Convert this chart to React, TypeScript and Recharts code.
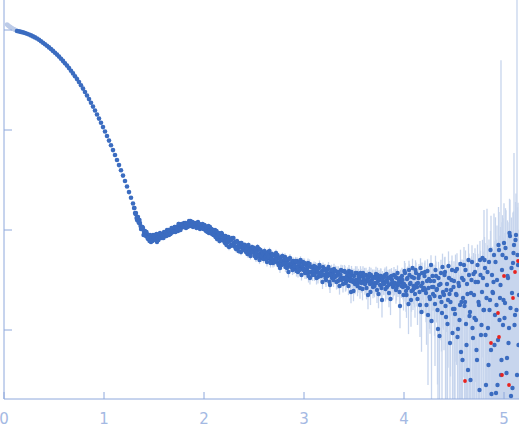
import React from 'react';
import { ScatterChart, Scatter, XAxis, YAxis, ErrorBar } from 'recharts';

// scattering curve, intensity stored as log10(I)
const FADED_Q = [0.03, 0.04, 0.05, 0.06, 0.07, 0.08, 0.09, 0.10, 0.11, 0.12];
const FADED_LOG_I = [0.055, 0.046, 0.038, 0.031, 0.024, 0.018, 0.012, 0.007, 0.002, -0.003];

const CURVE_Q = [
  0.13, 0.15, 0.17, 0.19, 0.21, 0.23, 0.25, 0.27, 0.29, 0.31,
  0.33, 0.35, 0.37, 0.39, 0.41, 0.43, 0.45, 0.47, 0.49, 0.51,
  0.53, 0.55, 0.57, 0.59, 0.61, 0.63, 0.65, 0.67, 0.69, 0.71,
  0.73, 0.75, 0.77, 0.79, 0.81, 0.83, 0.85, 0.87, 0.89, 0.91,
  0.93, 0.95, 0.97, 0.99, 1.01, 1.03, 1.05, 1.07, 1.09, 1.11,
  1.13, 1.15, 1.17, 1.19, 1.21, 1.23, 1.25, 1.27, 1.29,
];
const CURVE_LOG_I = [
  -0.010, -0.014, -0.019, -0.024, -0.030, -0.037, -0.045, -0.054, -0.064, -0.074,
  -0.085, -0.098, -0.112, -0.127, -0.142, -0.158, -0.174, -0.191, -0.209, -0.227,
  -0.246, -0.266, -0.287, -0.309, -0.332, -0.356, -0.381, -0.407, -0.434, -0.462,
  -0.491, -0.521, -0.553, -0.586, -0.620, -0.655, -0.691, -0.728, -0.766, -0.805,
  -0.845, -0.886, -0.928, -0.971, -1.015, -1.060, -1.106, -1.153, -1.201, -1.250,
  -1.300, -1.351, -1.403, -1.456, -1.510, -1.565, -1.621, -1.678, -1.735,
];

// noisy part, read on a 0.01 grid ...
const NOISY_Q = [
  1.30, 1.31, 1.32, 1.33, 1.34, 1.35, 1.36, 1.37, 1.38, 1.39,
  1.40, 1.41, 1.42, 1.43, 1.44, 1.45, 1.46, 1.47, 1.48, 1.49,
  1.50, 1.51, 1.52, 1.53, 1.54, 1.55, 1.56, 1.57, 1.58, 1.59,
  1.60, 1.61, 1.62, 1.63, 1.64, 1.65, 1.66, 1.67, 1.68, 1.69,
  1.70, 1.71, 1.72, 1.73, 1.74, 1.75, 1.76, 1.77, 1.78, 1.79,
  1.80, 1.81, 1.82, 1.83, 1.84, 1.85, 1.86, 1.87, 1.88, 1.89,
  1.90, 1.91, 1.92, 1.93, 1.94, 1.95, 1.96, 1.97, 1.98, 1.99,
  2.00, 2.01, 2.02, 2.03, 2.04, 2.05, 2.06, 2.07, 2.08, 2.09,
  2.10, 2.11, 2.12, 2.13, 2.14, 2.15, 2.16, 2.17, 2.18, 2.19,
  2.20, 2.21, 2.22, 2.23, 2.24, 2.25, 2.26, 2.27, 2.28, 2.29,
  2.30, 2.31, 2.32, 2.33, 2.34, 2.35, 2.36, 2.37, 2.38, 2.39,
  2.40, 2.41, 2.42, 2.43, 2.44, 2.45, 2.46, 2.47, 2.48, 2.49,
  2.50, 2.51, 2.52, 2.53, 2.54, 2.55, 2.56, 2.57, 2.58, 2.59,
  2.60, 2.61, 2.62, 2.63, 2.64, 2.65, 2.66, 2.67, 2.68, 2.69,
  2.70, 2.71, 2.72, 2.73, 2.74, 2.75, 2.76, 2.77, 2.78, 2.79,
  2.80, 2.81, 2.82, 2.83, 2.84, 2.85, 2.86, 2.87, 2.88, 2.89,
  2.90, 2.91, 2.92, 2.93, 2.94, 2.95, 2.96, 2.97, 2.98, 2.99,
  3.00, 3.01, 3.02, 3.03, 3.04, 3.05, 3.06, 3.07, 3.08, 3.09,
  3.10, 3.11, 3.12, 3.13, 3.14, 3.15, 3.16, 3.17, 3.18, 3.19,
  3.20, 3.21, 3.22, 3.23, 3.24, 3.25, 3.26, 3.27, 3.28, 3.29,
  3.30, 3.31, 3.32, 3.33, 3.34, 3.35, 3.36, 3.37, 3.38, 3.39,
  3.40, 3.41, 3.42, 3.43, 3.44, 3.45, 3.46, 3.47, 3.48, 3.49,
  3.50, 3.51, 3.52, 3.53, 3.54, 3.55, 3.56, 3.57, 3.58, 3.59,
  3.60, 3.61, 3.62, 3.63, 3.64, 3.65, 3.66, 3.67, 3.68, 3.69,
  3.70, 3.71, 3.72, 3.73, 3.74, 3.75, 3.76, 3.77, 3.78, 3.79,
  3.80, 3.81, 3.82, 3.83, 3.84, 3.85, 3.86, 3.87, 3.88, 3.89,
  3.90, 3.91, 3.92, 3.93, 3.94, 3.95, 3.96, 3.97, 3.98, 3.99,
  4.00, 4.01, 4.02, 4.03, 4.04, 4.05, 4.06, 4.07, 4.08, 4.09,
  4.10, 4.11, 4.12, 4.13, 4.14, 4.15, 4.16, 4.17, 4.18, 4.19,
  4.20, 4.21, 4.22, 4.23, 4.24, 4.25, 4.26, 4.27, 4.28, 4.29,
  4.30, 4.31, 4.32, 4.33, 4.34, 4.35, 4.36, 4.37, 4.38, 4.39,
  4.40, 4.41, 4.42, 4.43, 4.44, 4.45, 4.46, 4.47, 4.48, 4.49,
  4.50, 4.51, 4.52, 4.53, 4.54, 4.55, 4.56, 4.57, 4.58, 4.59,
  4.60, 4.61, 4.62, 4.63, 4.64, 4.65, 4.66, 4.67, 4.68, 4.69,
  4.70, 4.71, 4.72, 4.73, 4.74, 4.75, 4.76, 4.77, 4.78, 4.79,
  4.80, 4.81, 4.82, 4.83, 4.84, 4.85, 4.86, 4.87, 4.88, 4.89,
  4.90, 4.91, 4.92, 4.93, 4.94, 4.95, 4.96, 4.97, 4.98, 4.99,
  5.00, 5.01, 5.02, 5.03, 5.04, 5.05, 5.06, 5.07, 5.08, 5.09,
  5.10, 5.11, 5.12, 5.13, 5.14, 5.15,
];
const NOISY_LOG_I = [
  -1.78, -1.83, -1.83, -1.90, -1.87, -1.93, -1.93, -1.99, -1.98, -1.98,
  -2.02, -2.01, -2.06, -2.04, -2.09, -2.07, -2.05, -2.12, -2.09, -2.05,
  -2.09, -2.05, -2.08, -2.12, -2.05, -2.08, -2.03, -2.06, -2.08, -2.04,
  -2.02, -2.06, -2.03, -2.00, -2.04, -2.05, -2.01, -2.03, -1.99, -2.00,
  -2.01, -1.97, -1.99, -1.97, -2.01, -1.94, -1.97, -1.98, -1.95, -1.97,
  -1.93, -1.96, -1.98, -1.94, -1.94, -1.91, -1.96, -1.93, -1.95, -1.97,
  -1.93, -1.96, -1.93, -1.96, -1.92, -1.96, -1.99, -1.95, -1.98, -1.97,
  -1.99, -1.96, -2.01, -1.99, -1.98, -2.03, -1.97, -2.01, -2.04, -2.00,
  -2.05, -2.00, -2.04, -2.09, -2.03, -2.07, -2.05, -2.10, -2.04, -2.10,
  -2.06, -2.13, -2.09, -2.07, -2.12, -2.17, -2.10, -2.15, -2.08, -2.14,
  -2.16, -2.12, -2.19, -2.11, -2.16, -2.17, -2.13, -2.22, -2.17, -2.15,
  -2.19, -2.15, -2.22, -2.19, -2.17, -2.24, -2.19, -2.23, -2.17, -2.22,
  -2.18, -2.24, -2.28, -2.21, -2.25, -2.19, -2.24, -2.28, -2.22, -2.24,
  -2.27, -2.23, -2.26, -2.32, -2.22, -2.28, -2.25, -2.31, -2.24, -2.33,
  -2.25, -2.31, -2.23, -2.29, -2.33, -2.28, -2.38, -2.27, -2.32, -2.31,
  -2.34, -2.27, -2.33, -2.38, -2.30, -2.35, -2.28, -2.37, -2.34, -2.31,
  -2.39, -2.33, -2.37, -2.31, -2.42, -2.36, -2.33, -2.39, -2.38, -2.32,
  -2.39, -2.43, -2.35, -2.39, -2.33, -2.42, -2.48, -2.37, -2.42, -2.38,
  -2.36, -2.43, -2.41, -2.38, -2.47, -2.38, -2.43, -2.46, -2.41, -2.37,
  -2.45, -2.39, -2.50, -2.43, -2.39, -2.45, -2.55, -2.42, -2.48, -2.43,
  -2.39, -2.47, -2.46, -2.42, -2.51, -2.44, -2.49, -2.40, -2.48, -2.54,
  -2.48, -2.42, -2.52, -2.46, -2.50, -2.41, -2.48, -2.62, -2.45, -2.52,
  -2.46, -2.54, -2.50, -2.43, -2.53, -2.48, -2.58, -2.46, -2.52, -2.43,
  -2.50, -2.54, -2.45, -2.51, -2.65, -2.47, -2.54, -2.45, -2.50, -2.57,
  -2.47, -2.53, -2.44, -2.60, -2.51, -2.48, -2.55, -2.46, -2.70, -2.52,
  -2.54, -2.45, -2.51, -2.57, -2.48, -2.63, -2.47, -2.54, -2.50, -2.57,
  -2.45, -2.53, -2.60, -2.48, -2.55, -2.50, -2.76, -2.52, -2.46, -2.57,
  -2.54, -2.43, -2.61, -2.49, -2.58, -2.40, -2.54, -2.70, -2.47, -2.60,
  -2.48, -2.64, -2.43, -2.57, -2.53, -2.45, -2.75, -2.56, -2.43, -2.60,
  -2.58, -2.42, -2.63, -2.51, -2.85, -2.49, -2.69, -2.35, -2.57, -2.64,
  -2.51, -2.74, -2.46, -2.59, -2.99, -2.55, -2.67, -2.43, -2.83, -2.62,
  -2.65, -2.42, -2.87, -2.54, -2.70, -2.48, -3.13, -2.60, -2.40, -2.79,
  -2.51, -2.84, -2.64, -2.39, -2.99, -2.56, -2.75, -3.22, -2.48, -2.68,
  -2.35, -2.72, -2.94, -2.54, -3.40, -2.45, -2.82, -2.63, -2.32, -3.08,
  -2.65, -2.42, -2.90, -3.30, -2.52, -2.75, -2.30, -3.05, -2.62, -2.48,
  -2.80, -2.38, -3.55, -2.55, -2.98, -2.32, -2.70, -3.20, -2.45, -2.63,
  -2.25, -2.85, -3.63, -2.50, -3.10, -2.20, -2.68, -3.45, -2.40, -2.95,
  -2.13, -2.73, -2.28, -3.28, -2.48, -2.98, -2.06, -3.66, -2.63, -2.33,
  -2.15, -2.85, -2.05, -3.45, -2.35, -2.65,
];
// relative error sigma / I
const NOISY_REL_ERR = [
  0.03, 0.03, 0.03, 0.04, 0.03, 0.03, 0.03, 0.04, 0.03, 0.03,
  0.03, 0.03, 0.04, 0.03, 0.04, 0.03, 0.03, 0.04, 0.03, 0.03,
  0.04, 0.03, 0.03, 0.04, 0.03, 0.04, 0.03, 0.03, 0.04, 0.03,
  0.03, 0.04, 0.03, 0.03, 0.04, 0.04, 0.03, 0.03, 0.03, 0.03,
  0.04, 0.03, 0.03, 0.03, 0.04, 0.03, 0.03, 0.04, 0.03, 0.03,
  0.03, 0.03, 0.04, 0.03, 0.03, 0.03, 0.04, 0.03, 0.03, 0.04,
  0.03, 0.04, 0.03, 0.03, 0.03, 0.03, 0.04, 0.03, 0.04, 0.03,
  0.04, 0.04, 0.05, 0.04, 0.04, 0.05, 0.04, 0.04, 0.05, 0.04,
  0.05, 0.04, 0.05, 0.06, 0.04, 0.05, 0.05, 0.06, 0.04, 0.05,
  0.05, 0.06, 0.05, 0.05, 0.06, 0.07, 0.05, 0.06, 0.05, 0.06,
  0.06, 0.05, 0.07, 0.05, 0.06, 0.06, 0.05, 0.07, 0.06, 0.06,
  0.06, 0.06, 0.07, 0.06, 0.06, 0.08, 0.06, 0.07, 0.06, 0.07,
  0.07, 0.08, 0.09, 0.07, 0.08, 0.07, 0.08, 0.09, 0.07, 0.08,
  0.09, 0.08, 0.08, 0.10, 0.07, 0.09, 0.08, 0.09, 0.08, 0.10,
  0.08, 0.09, 0.08, 0.09, 0.10, 0.09, 0.11, 0.08, 0.09, 0.09,
  0.10, 0.09, 0.10, 0.11, 0.09, 0.10, 0.09, 0.11, 0.10, 0.09,
  0.11, 0.10, 0.10, 0.09, 0.12, 0.10, 0.10, 0.11, 0.10, 0.09,
  0.12, 0.13, 0.11, 0.12, 0.11, 0.13, 0.14, 0.11, 0.12, 0.12,
  0.11, 0.13, 0.12, 0.12, 0.14, 0.12, 0.13, 0.14, 0.12, 0.11,
  0.14, 0.12, 0.15, 0.13, 0.12, 0.14, 0.17, 0.13, 0.14, 0.13,
  0.13, 0.15, 0.15, 0.14, 0.17, 0.15, 0.16, 0.13, 0.16, 0.18,
  0.17, 0.15, 0.18, 0.16, 0.17, 0.15, 0.17, 0.23, 0.16, 0.18,
  0.18, 0.21, 0.19, 0.17, 0.20, 0.18, 0.22, 0.18, 0.20, 0.17,
  0.20, 0.22, 0.18, 0.20, 0.28, 0.19, 0.21, 0.18, 0.20, 0.23,
  0.19, 0.22, 0.18, 0.26, 0.21, 0.20, 0.23, 0.19, 0.33, 0.21,
  0.23, 0.19, 0.22, 0.25, 0.21, 0.28, 0.20, 0.23, 0.22, 0.25,
  0.20, 0.23, 0.27, 0.22, 0.24, 0.22, 0.40, 0.23, 0.21, 0.25,
  0.33, 0.26, 0.38, 0.29, 0.35, 0.24, 0.32, 0.46, 0.28, 0.37,
  0.30, 0.42, 0.27, 0.36, 0.33, 0.29, 0.52, 0.35, 0.27, 0.38,
  0.44, 0.30, 0.49, 0.37, 0.80, 0.35, 0.55, 0.25, 0.42, 0.48,
  0.45, 0.76, 0.40, 0.54, 1.30, 0.48, 0.63, 0.36, 0.91, 0.56,
  0.72, 0.42, 1.20, 0.55, 0.79, 0.48, 2.10, 0.62, 0.40, 0.95,
  0.58, 1.25, 0.79, 0.44, 1.75, 0.66, 0.99, 2.90, 0.53, 0.84,
  0.51, 1.19, 1.97, 0.79, 5.70, 0.64, 1.50, 0.96, 0.47, 2.70,
  1.23, 0.73, 2.20, 5.50, 0.92, 1.55, 0.55, 3.10, 1.15, 0.84,
  9.0, 0.78, 11.6, 4.8, 3.1, 0.68, 1.6, 21, 0.92, 1.4,
  1.6, 4.5, 30, 2.5, 7.0, 1.4, 3.2, 1400, 2.0, 10.7,
  1.5, 4.0, 2.0, 12, 2.6, 7.0, 1.3, 43, 3.2, 2.2,
  7.3, 5.0, 1.6, 8000, 3.2, 3.5,
];

// ... and the points lying in between
const NOISY_Q2 = [
  1.305, 1.315, 1.325, 1.335, 1.345, 1.355, 1.365, 1.375, 1.385, 1.395,
  1.405, 1.415, 1.425, 1.435, 1.445, 1.455, 1.465, 1.475, 1.485, 1.495,
  1.505, 1.515, 1.525, 1.535, 1.545, 1.555, 1.565, 1.575, 1.585, 1.595,
  1.605, 1.615, 1.625, 1.635, 1.645, 1.655, 1.665, 1.675, 1.685, 1.695,
  1.705, 1.715, 1.725, 1.735, 1.745, 1.755, 1.765, 1.775, 1.785, 1.795,
  1.805, 1.815, 1.825, 1.835, 1.845, 1.855, 1.865, 1.875, 1.885, 1.895,
  1.905, 1.915, 1.925, 1.935, 1.945, 1.955, 1.965, 1.975, 1.985, 1.995,
  2.005, 2.015, 2.025, 2.035, 2.045, 2.055, 2.065, 2.075, 2.085, 2.095,
  2.105, 2.115, 2.125, 2.135, 2.145, 2.155, 2.165, 2.175, 2.185, 2.195,
  2.205, 2.215, 2.225, 2.235, 2.245, 2.255, 2.265, 2.275, 2.285, 2.295,
  2.305, 2.315, 2.325, 2.335, 2.345, 2.355, 2.365, 2.375, 2.385, 2.395,
  2.405, 2.415, 2.425, 2.435, 2.445, 2.455, 2.465, 2.475, 2.485, 2.495,
  2.505, 2.515, 2.525, 2.535, 2.545, 2.555, 2.565, 2.575, 2.585, 2.595,
  2.605, 2.615, 2.625, 2.635, 2.645, 2.655, 2.665, 2.675, 2.685, 2.695,
  2.705, 2.715, 2.725, 2.735, 2.745, 2.755, 2.765, 2.775, 2.785, 2.795,
  2.805, 2.815, 2.825, 2.835, 2.845, 2.855, 2.865, 2.875, 2.885, 2.895,
  2.905, 2.915, 2.925, 2.935, 2.945, 2.955, 2.965, 2.975, 2.985, 2.995,
  3.005, 3.015, 3.025, 3.035, 3.045, 3.055, 3.065, 3.075, 3.085, 3.095,
  3.105, 3.115, 3.125, 3.135, 3.145, 3.155, 3.165, 3.175, 3.185, 3.195,
  3.205, 3.215, 3.225, 3.235, 3.245, 3.255, 3.265, 3.275, 3.285, 3.295,
  3.305, 3.315, 3.325, 3.335, 3.345, 3.355, 3.365, 3.375, 3.385, 3.395,
  3.405, 3.415, 3.425, 3.435, 3.445, 3.455, 3.465, 3.475, 3.485, 3.495,
  3.505, 3.515, 3.525, 3.535, 3.545, 3.555, 3.565, 3.575, 3.585, 3.595,
  3.605, 3.615, 3.625, 3.635, 3.645, 3.655, 3.665, 3.675, 3.685, 3.695,
  3.705, 3.715, 3.725, 3.735, 3.745, 3.755, 3.765, 3.775, 3.785, 3.795,
  3.805, 3.815, 3.825, 3.835, 3.845, 3.855, 3.865, 3.875, 3.885, 3.895,
  3.905, 3.915, 3.925, 3.935, 3.945, 3.955, 3.965, 3.975, 3.985, 3.995,
  4.005, 4.015, 4.025, 4.035, 4.045, 4.055, 4.065, 4.075, 4.085, 4.095,
  4.105, 4.115, 4.125, 4.135, 4.145, 4.155, 4.165, 4.175, 4.185, 4.195,
  4.205, 4.215, 4.225, 4.235, 4.245, 4.255, 4.265, 4.275, 4.285, 4.295,
  4.305, 4.315, 4.325, 4.335, 4.345, 4.355, 4.365, 4.375, 4.385, 4.395,
  4.405, 4.415, 4.425, 4.435, 4.445, 4.455, 4.465, 4.475, 4.485, 4.495,
  4.505, 4.515, 4.525, 4.535, 4.545, 4.555, 4.565, 4.575, 4.585, 4.595,
  4.605, 4.615, 4.625, 4.635, 4.645, 4.655, 4.665, 4.675, 4.685, 4.695,
  4.705, 4.715, 4.725, 4.735, 4.745, 4.755, 4.765, 4.775, 4.785, 4.795,
  4.805, 4.815, 4.825, 4.835, 4.845, 4.855, 4.865, 4.875, 4.885, 4.895,
  4.905, 4.915, 4.925, 4.935, 4.945, 4.955, 4.965, 4.975, 4.985, 4.995,
  5.005, 5.015, 5.025, 5.035, 5.045, 5.055, 5.065, 5.075, 5.085, 5.095,
  5.105, 5.115, 5.125, 5.135, 5.145,
];
const NOISY_LOG_I2 = [
  -1.78, -1.84, -1.88, -1.87, -1.92, -1.90, -1.96, -1.99, -1.97, -2.05,
  -2.05, -2.02, -2.02, -2.08, -2.08, -2.11, -2.06, -2.08, -2.11, -2.07,
  -2.06, -2.10, -2.04, -2.08, -2.10, -2.04, -2.08, -2.05, -2.06, -2.08,
  -2.06, -2.02, -2.06, -2.03, -2.00, -2.01, -2.04, -1.98, -2.02, -2.02,
  -1.97, -2.02, -1.97, -1.99, -1.94, -1.99, -2.00, -1.94, -1.96, -1.97,
  -1.97, -1.93, -1.95, -1.97, -1.93, -1.96, -1.91, -1.95, -1.92, -1.95,
  -1.96, -1.94, -1.98, -1.93, -1.96, -1.94, -1.98, -1.97, -1.94, -1.99,
  -1.95, -2.00, -1.97, -2.02, -1.96, -2.01, -2.02, -1.99, -2.01, -2.05,
  -2.01, -2.07, -2.01, -2.06, -2.03, -2.11, -2.06, -2.03, -2.10, -2.07,
  -2.12, -2.06, -2.15, -2.11, -2.07, -2.11, -2.16, -2.10, -2.15, -2.08,
  -2.13, -2.18, -2.12, -2.17, -2.21, -2.14, -2.17, -2.13, -2.20, -2.17,
  -2.15, -2.21, -2.18, -2.24, -2.15, -2.22, -2.26, -2.19, -2.22, -2.18,
  -2.26, -2.20, -2.23, -2.17, -2.26, -2.30, -2.20, -2.26, -2.23, -2.29,
  -2.21, -2.27, -2.30, -2.24, -2.27, -2.21, -2.33, -2.28, -2.25, -2.30,
  -2.32, -2.27, -2.30, -2.25, -2.35, -2.28, -2.31, -2.35, -2.26, -2.34,
  -2.29, -2.37, -2.29, -2.34, -2.42, -2.29, -2.34, -2.33, -2.40, -2.32,
  -2.36, -2.31, -2.41, -2.37, -2.33, -2.40, -2.30, -2.45, -2.36, -2.40,
  -2.33, -2.40, -2.43, -2.37, -2.46, -2.34, -2.42, -2.37, -2.45, -2.41,
  -2.45, -2.37, -2.48, -2.40, -2.43, -2.35, -2.45, -2.43, -2.52, -2.40,
  -2.39, -2.48, -2.42, -2.46, -2.37, -2.52, -2.45, -2.40, -2.46, -2.50,
  -2.46, -2.41, -2.52, -2.45, -2.42, -2.56, -2.45, -2.50, -2.41, -2.49,
  -2.41, -2.53, -2.48, -2.44, -2.56, -2.45, -2.51, -2.42, -2.50, -2.61,
  -2.51, -2.43, -2.50, -2.56, -2.46, -2.50, -2.43, -2.53, -2.59, -2.48,
  -2.45, -2.53, -2.58, -2.48, -2.51, -2.44, -2.62, -2.52, -2.47, -2.55,
  -2.56, -2.48, -2.53, -2.45, -2.64, -2.50, -2.46, -2.58, -2.49, -2.54,
  -2.47, -2.59, -2.44, -2.52, -2.55, -2.48, -2.69, -2.46, -2.52, -2.55,
  -2.54, -2.47, -2.58, -2.43, -2.53, -2.62, -2.48, -2.56, -2.50, -2.65,
  -2.41, -2.56, -2.65, -2.48, -2.74, -2.45, -2.53, -2.61, -2.38, -2.56,
  -2.58, -2.40, -2.54, -2.69, -2.48, -2.62, -2.38, -2.82, -2.53, -2.58,
  -2.46, -2.60, -2.75, -2.41, -2.58, -2.67, -2.51, -2.91, -2.46, -2.57,
  -2.66, -2.40, -2.60, -2.80, -2.48, -3.06, -2.54, -2.72, -2.37, -2.64,
  -2.45, -2.76, -2.60, -2.94, -2.36, -2.64, -2.72, -2.50, -3.03, -2.57,
  -2.79, -2.41, -2.65, -3.07, -2.53, -2.90, -2.34, -2.72, -3.30, -2.50,
  -2.76, -2.40, -3.15, -2.64, -2.30, -2.86, -3.50, -2.50, -2.98, -2.44,
  -2.88, -2.52, -3.20, -2.35, -2.72, -3.60, -2.45, -2.95, -2.28, -2.80,
  -2.30, -3.05, -2.68, -2.42, -3.35, -2.80, -2.20, -3.64, -2.62, -2.52,
  -3.15, -2.32, -2.75, -3.55, -2.15, -2.90, -2.55, -3.30, -2.25, -2.70,
  -2.88, -2.18, -3.43, -2.46, -3.13, -2.03, -2.78, -2.38, -3.58, -2.23,
  -2.95, -2.10, -2.80, -2.25, -3.15,
];
const NOISY_REL_ERR2 = [
  0.03, 0.03, 0.04, 0.03, 0.04, 0.03, 0.03, 0.04, 0.03, 0.04,
  0.04, 0.03, 0.03, 0.04, 0.03, 0.04, 0.03, 0.03, 0.04, 0.03,
  0.03, 0.04, 0.03, 0.03, 0.04, 0.03, 0.04, 0.03, 0.03, 0.04,
  0.04, 0.03, 0.04, 0.03, 0.03, 0.03, 0.04, 0.03, 0.03, 0.04,
  0.03, 0.04, 0.03, 0.03, 0.03, 0.04, 0.04, 0.03, 0.03, 0.04,
  0.04, 0.03, 0.03, 0.04, 0.03, 0.04, 0.03, 0.03, 0.03, 0.04,
  0.04, 0.03, 0.04, 0.03, 0.04, 0.03, 0.04, 0.04, 0.03, 0.04,
  0.04, 0.05, 0.04, 0.05, 0.04, 0.05, 0.05, 0.04, 0.05, 0.05,
  0.05, 0.06, 0.04, 0.05, 0.05, 0.06, 0.05, 0.05, 0.06, 0.05,
  0.06, 0.05, 0.06, 0.06, 0.05, 0.06, 0.07, 0.05, 0.06, 0.05,
  0.06, 0.07, 0.05, 0.06, 0.07, 0.06, 0.06, 0.05, 0.07, 0.06,
  0.06, 0.07, 0.06, 0.08, 0.06, 0.07, 0.08, 0.06, 0.07, 0.06,
  0.08, 0.07, 0.08, 0.07, 0.08, 0.09, 0.07, 0.08, 0.08, 0.09,
  0.08, 0.09, 0.09, 0.08, 0.09, 0.08, 0.10, 0.09, 0.08, 0.09,
  0.10, 0.09, 0.09, 0.08, 0.10, 0.09, 0.09, 0.10, 0.08, 0.10,
  0.09, 0.11, 0.09, 0.10, 0.12, 0.09, 0.10, 0.10, 0.11, 0.10,
  0.10, 0.10, 0.12, 0.11, 0.10, 0.11, 0.09, 0.12, 0.10, 0.11,
  0.11, 0.12, 0.13, 0.12, 0.14, 0.11, 0.12, 0.12, 0.13, 0.12,
  0.13, 0.12, 0.14, 0.12, 0.13, 0.11, 0.13, 0.13, 0.15, 0.12,
  0.12, 0.15, 0.13, 0.14, 0.12, 0.16, 0.14, 0.13, 0.14, 0.15,
  0.15, 0.13, 0.16, 0.15, 0.14, 0.18, 0.15, 0.16, 0.14, 0.16,
  0.15, 0.18, 0.17, 0.16, 0.19, 0.16, 0.18, 0.15, 0.17, 0.21,
  0.19, 0.17, 0.19, 0.21, 0.18, 0.19, 0.17, 0.20, 0.23, 0.18,
  0.18, 0.20, 0.23, 0.19, 0.20, 0.18, 0.26, 0.20, 0.19, 0.22,
  0.23, 0.20, 0.21, 0.18, 0.28, 0.20, 0.19, 0.24, 0.20, 0.22,
  0.20, 0.25, 0.19, 0.22, 0.23, 0.21, 0.31, 0.20, 0.22, 0.23,
  0.23, 0.20, 0.25, 0.19, 0.22, 0.27, 0.21, 0.24, 0.22, 0.30,
  0.26, 0.34, 0.41, 0.30, 0.50, 0.28, 0.32, 0.38, 0.24, 0.34,
  0.36, 0.25, 0.33, 0.45, 0.29, 0.40, 0.25, 0.60, 0.32, 0.35,
  0.36, 0.45, 0.60, 0.31, 0.43, 0.52, 0.38, 0.85, 0.35, 0.42,
  0.60, 0.39, 0.52, 0.82, 0.45, 1.50, 0.48, 0.68, 0.36, 0.56,
  0.50, 0.90, 0.62, 1.40, 0.40, 0.68, 0.82, 0.56, 1.70, 0.60,
  1.10, 0.46, 0.80, 2.20, 0.62, 1.45, 0.39, 0.95, 3.50, 0.58,
  1.30, 0.57, 3.20, 0.98, 0.45, 1.60, 7.0, 0.72, 2.10, 0.62,
  1.80, 0.90, 4.00, 0.60, 1.30, 10.0, 0.75, 2.40, 0.52, 1.60,
  0.70, 3.10, 1.50, 0.85, 6.00, 2.00, 0.55, 14.0, 1.30, 1.05,
  8.0, 1.8, 3.5, 16.0, 1.4, 4.5, 2.8, 9.0, 1.5, 3.2,
  5.0, 1.5, 12.0, 2.6, 7.0, 1.2, 3.8, 2.2, 16.0, 1.6,
  5.5, 1.4, 4.2, 2.0, 8.0,
];

// points flagged as outliers (red)
const OUTLIER_Q = [4.61, 4.87, 4.94, 4.95, 4.98, 5.00, 5.05, 5.09, 5.11, 5.14];
const OUTLIER_LOG_I = [-3.51, -3.13, -2.83, -3.07, -3.45, -2.46, -3.55, -2.68, -2.42, -2.31];

const X_TICKS = [0, 1, 2, 3, 4, 5];
const Y_TICKS = [1, 0.1, 0.01, 0.001];

const Y_MIN = Math.pow(10, -3.69);
const Y_MAX = Math.pow(10, 0.3);
const AXIS_COLOR = '#8ea8dc';
const LABEL_COLOR = '#a4b9e3';

const toRows = (qs: number[], logs: number[], rel?: number[]) =>
  qs.map((q, i) => {
    const I = Math.pow(10, logs[i]);
    if (!rel) return { q, I };
    const sigma = I * rel[i];
    // keep the bar inside the plotted range
    const lo = Math.max(I - sigma, Y_MIN);
    const hi = Math.min(I + sigma, Y_MAX);
    return { q, I, err: [Math.max(I - lo, 0), Math.max(hi - I, 0)] };
  });

const fadedData = toRows(FADED_Q, FADED_LOG_I);
const curveData = toRows(CURVE_Q, CURVE_LOG_I);
const noisyData = [
  ...toRows(NOISY_Q, NOISY_LOG_I, NOISY_REL_ERR),
  ...toRows(NOISY_Q2, NOISY_LOG_I2, NOISY_REL_ERR2),
];
const outlierData = toRows(OUTLIER_Q, OUTLIER_LOG_I);

const dot = (color: string, r: number) => (props: any) => (
  <circle cx={props.cx} cy={props.cy} r={r} fill={color} />
);

const XTick = ({ x, y, payload }: any) => (
  <g>
    <line x1={x} x2={x} y1={y} y2={y - 7} stroke={AXIS_COLOR} />
    <text x={x} y={y + 25} textAnchor="middle" fill={LABEL_COLOR} fontSize={15} fontFamily="DejaVu Sans">
      {payload.value}
    </text>
  </g>
);

const YTick = ({ x, y }: any) => (
  <line x1={x} x2={x + 8} y1={y} y2={y} stroke={AXIS_COLOR} />
);

export default function App() {
  return (
    <div style={{ position: 'absolute', left: 0, top: 0, background: '#fff' }}>
      <ScatterChart width={519} height={437} margin={{ top: 0, right: 0, bottom: 0, left: 0 }}>
        <XAxis
          type="number"
          dataKey="q"
          domain={[0, 5.15]}
          ticks={X_TICKS}
          allowDataOverflow
          height={38}
          tickSize={0}
          tickMargin={0}
          tickLine={false}
          tick={<XTick />}
          axisLine={{ stroke: AXIS_COLOR }}
        />
        <YAxis
          type="number"
          dataKey="I"
          scale="log"
          domain={[Y_MIN, Y_MAX]}
          ticks={Y_TICKS}
          allowDataOverflow
          width={4}
          tickSize={0}
          tickMargin={0}
          tickLine={false}
          tick={<YTick />}
          axisLine={{ stroke: AXIS_COLOR }}
        />
        <Scatter data={noisyData} shape={dot('#3b6cc0', 2.2)} isAnimationActive={false}>
          <ErrorBar dataKey="err" direction="y" width={0} stroke="#c7d5ed" strokeWidth={1.3} />
        </Scatter>
        <Scatter data={fadedData} shape={dot('#bccbe8', 2.3)} isAnimationActive={false} />
        <Scatter data={curveData} shape={dot('#3b6cc0', 2.3)} isAnimationActive={false} />
        <Scatter data={outlierData} shape={dot('#e8231f', 1.9)} isAnimationActive={false} />
      </ScatterChart>
    </div>
  );
}
